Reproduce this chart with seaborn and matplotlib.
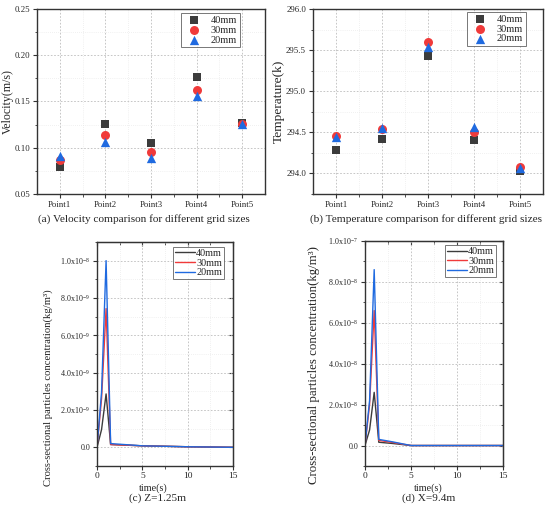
import numpy as np
import pandas as pd
import matplotlib
matplotlib.use('Agg')
import matplotlib.pyplot as plt
from matplotlib.ticker import FuncFormatter, MultipleLocator, NullFormatter
import seaborn as sns

# grid sizes and sample points
grids = ['40mm', '30mm', '20mm']
points = ['Point1', 'Point2', 'Point3', 'Point4', 'Point5']

# (a) velocity at each point
vel_40 = [0.0797, 0.126, 0.1047, 0.176, 0.1262]
vel_30 = [0.0862, 0.1141, 0.0953, 0.162, 0.1260]
vel_20 = [0.0913, 0.1065, 0.0891, 0.1554, 0.1255]

# (b) temperature at each point
temp_40 = [294.29, 294.42, 295.43, 294.41, 294.03]
temp_30 = [294.45, 294.54, 295.60, 294.50, 294.08]
temp_20 = [294.44, 294.557, 295.54, 294.565, 294.06]

# (c) Z=1.25m concentration over time
t_c = [0, 0.5, 1.0, 1.5, 5, 10, 15]
conc_c_40 = [0, 0.95e-9, 2.86e-9, 0.15e-9, 0.08e-9, 0.03e-9, 0]
conc_c_30 = [0, 2.6e-9, 7.43e-9, 0.15e-9, 0.08e-9, 0.03e-9, 0]
conc_c_20 = [0, 2.95e-9, 1.0e-8, 0.2e-9, 0.08e-9, 0.03e-9, 0]

# (d) X=9.4m concentration over time
t_d = [0, 0.5, 1.0, 1.5, 3, 5, 10, 15]
conc_d_40 = [0, 0.76e-8, 2.6e-8, 0.16e-8, 0.1e-8, 0, 0, 0]
conc_d_30 = [0, 2.0e-8, 6.6e-8, 0.25e-8, 0.15e-8, 0, 0, 0]
conc_d_20 = [0, 2.2e-8, 8.6e-8, 0.3e-8, 0.18e-8, 0, 0, 0]

colors = {'40mm': '#3c3c3c', '30mm': '#f03a3a', '20mm': '#1f6ae0'}
markers = {'40mm': 's', '30mm': 'o', '20mm': '^'}
sizes = {'40mm': 30, '30mm': 42, '20mm': 45}

sns.set_style('ticks')
plt.rcParams['font.family'] = ['Liberation Serif', 'DejaVu Serif']
plt.rcParams['mathtext.fontset'] = 'custom'
plt.rcParams['mathtext.rm'] = 'Liberation Serif'
plt.rcParams['mathtext.it'] = 'Liberation Serif:italic'
plt.rcParams['mathtext.default'] = 'regular'


def scatter_df(v40, v30, v20):
    return pd.DataFrame({
        'point': points * 3,
        'value': list(v40) + list(v30) + list(v20),
        'grid': ['40mm'] * 5 + ['30mm'] * 5 + ['20mm'] * 5,
    })


def line_df(t, v40, v30, v20):
    n = len(t)
    return pd.DataFrame({
        'time': list(t) * 3,
        'value': list(v40) + list(v30) + list(v20),
        'grid': ['40mm'] * n + ['30mm'] * n + ['20mm'] * n,
    })


def style_axes(ax, labelsize):
    for sp in ax.spines.values():
        sp.set_visible(True)
        sp.set_color('#333333')
        sp.set_linewidth(1.0)
    ax.tick_params(which='major', length=3, width=0.8, labelsize=labelsize, color='#333333', pad=2)
    ax.tick_params(which='minor', length=1.8, width=0.6, color='#333333')
    ax.grid(which='major', ls=(0, (2, 2)), color='#bdbdbd', lw=0.6)
    ax.grid(which='minor', ls=(0, (1, 2)), color='#e3e3e3', lw=0.5)
    ax.set_axisbelow(True)


fig = plt.figure(figsize=(5.5, 5.11), dpi=100)
ax_a = fig.add_axes([0.0673, 0.6204, 0.4145, 0.362])
ax_b = fig.add_axes([0.569, 0.6204, 0.418, 0.362])
ax_c = fig.add_axes([0.1764, 0.0881, 0.2473, 0.4384])
ax_d = fig.add_axes([0.6636, 0.0881, 0.251, 0.4403])

# --- (a) and (b): scatter comparison
for ax, df, ylim, major, minor, ylab, ylab_size, ylab_x, leg_anchor in [
    (ax_a, scatter_df(vel_40, vel_30, vel_20), (0.05, 0.25), 0.05, 0.025,
     'Velocity(m/s)', 8.6, -0.103, (0.89, 0.978)),
    (ax_b, scatter_df(temp_40, temp_30, temp_20), (293.75, 296.0), 0.5, 0.25,
     'Temperature(k)', 9.6, -0.124, (0.926, 0.984)),
]:
    for g in grids:
        sub = df[df['grid'] == g]
        sns.scatterplot(data=sub, x='point', y='value', ax=ax, color=colors[g],
                        marker=markers[g], s=sizes[g], linewidth=0, label=g)
    style_axes(ax, 6.3)
    ax.set_xlim(-0.5, 4.5)
    ax.set_ylim(*ylim)
    ax.set_xticks(range(5))
    ax.set_xticks([0.5, 1.5, 2.5, 3.5], minor=True)
    ax.yaxis.set_major_locator(MultipleLocator(major))
    ax.yaxis.set_minor_locator(MultipleLocator(minor))
    ax.set_xlabel('')
    ax.set_ylabel(ylab, fontsize=ylab_size)
    ax.yaxis.set_label_coords(ylab_x, 0.5)
    leg = ax.legend(loc='upper right', bbox_to_anchor=leg_anchor, fontsize=7.5,
                    frameon=True, edgecolor='#555555', fancybox=False,
                    handletextpad=0.6, borderpad=0.25, labelspacing=0.05,
                    borderaxespad=0)
    leg.get_frame().set_linewidth(0.7)

ax_a.yaxis.set_major_formatter(FuncFormatter(lambda v, p: f'{v:.2f}'))
ax_b.yaxis.set_major_formatter(FuncFormatter(lambda v, p: f'{v:.1f}'))


def sci_fmt(v, pos):
    if abs(v) < 1e-15:
        return '0.0'
    e = int(np.floor(np.log10(abs(v)) + 1e-9))
    m = v / 10 ** e
    return rf'${m:.1f}\mathrm{{x}}10^{{{e}}}$'


# --- (c) and (d): concentration time series
for ax, df, ylim, major, ylab_size, ylab_pos, leg_anchor in [
    (ax_c, line_df(t_c, conc_c_40, conc_c_30, conc_c_20), (-1e-9, 1.1e-8), 2e-9,
     7.7, (-0.324, 0.348), (0.934, 0.978)),
    (ax_d, line_df(t_d, conc_d_40, conc_d_30, conc_d_20), (-1e-8, 1e-7), 2e-8,
     9.3, (-0.325, 0.449), (0.949, 0.982)),
]:
    sns.lineplot(data=df, x='time', y='value', hue='grid', hue_order=grids,
                 palette=colors, ax=ax, linewidth=1.0, estimator=None, sort=False)
    style_axes(ax, 5.8)
    ax.set_xlim(0, 15)
    ax.set_ylim(*ylim)
    ax.xaxis.set_major_locator(MultipleLocator(5))
    ax.xaxis.set_minor_locator(MultipleLocator(2.5))
    ax.yaxis.set_major_locator(MultipleLocator(major))
    ax.yaxis.set_minor_locator(MultipleLocator(major / 2))
    ax.yaxis.set_major_formatter(FuncFormatter(sci_fmt))
    ax.tick_params(axis='x', labelsize=6.8, pad=1.5)
    ax.set_xlabel('time(s)', fontsize=7.3)
    ax.set_ylabel('Cross-sectional particles concentration(kg/m³)', fontsize=ylab_size)
    ax.yaxis.set_label_coords(*ylab_pos)
    # inward ticks on the top and right frame
    top = ax.secondary_xaxis('top')
    top.xaxis.set_major_locator(MultipleLocator(5))
    top.xaxis.set_minor_locator(MultipleLocator(2.5))
    top.xaxis.set_major_formatter(NullFormatter())
    top.tick_params(which='major', direction='in', length=3, width=0.8, color='#333333')
    top.tick_params(which='minor', direction='in', length=1.8, width=0.6, color='#333333')
    right = ax.secondary_yaxis('right')
    right.yaxis.set_major_locator(MultipleLocator(major))
    right.yaxis.set_minor_locator(MultipleLocator(major / 2))
    right.yaxis.set_major_formatter(NullFormatter())
    right.tick_params(which='major', direction='in', length=3, width=0.8, color='#333333')
    right.tick_params(which='minor', direction='in', length=1.8, width=0.6, color='#333333')
    leg = ax.legend(loc='upper right', bbox_to_anchor=leg_anchor, fontsize=7.3,
                    frameon=True, edgecolor='#555555', fancybox=False,
                    handlelength=2.0, handletextpad=0.1, borderpad=0.2,
                    labelspacing=0.05, borderaxespad=0)
    leg.get_frame().set_linewidth(0.7)

ax_c.xaxis.set_label_coords(0.41, -0.078)
ax_d.xaxis.set_label_coords(0.46, -0.078)

# captions
cap = 8.1
fig.text(144 / 550, 1 - 219 / 511, '(a) Velocity comparison for different grid sizes',
         ha='center', va='center', fontsize=cap)
fig.text(426 / 550, 1 - 219 / 511, '(b) Temperature comparison for different grid sizes',
         ha='center', va='center', fontsize=cap)
fig.text(158 / 550, 1 - 498 / 511, '(c) Z=1.25m', ha='center', va='center', fontsize=cap)
fig.text(429 / 550, 1 - 498 / 511, '(d) X=9.4m', ha='center', va='center', fontsize=cap)

fig.savefig('out.png', dpi=100)
